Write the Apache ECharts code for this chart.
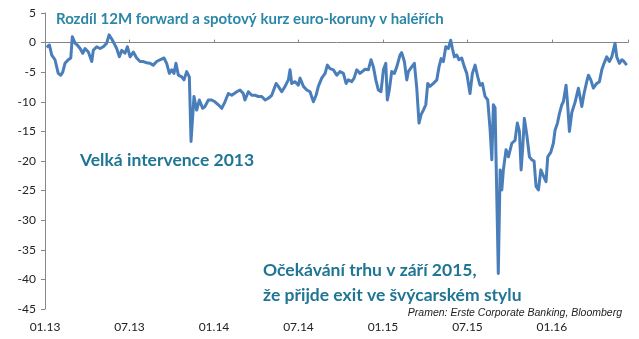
<!DOCTYPE html>
<html>
<head>
<meta charset="utf-8">
<script src="https://cdn.jsdelivr.net/npm/echarts@6/dist/echarts.min.js"></script>
<style>html,body{margin:0;padding:0;background:#fff}#c{width:639px;height:339px}</style>
</head>
<body>
<div id="c"></div>
<script>
// x: months since 1 Jan 2013 (fractional)
const monthIdx = [0.12,0.31,0.48,0.71,0.83,0.94,1.12,1.26,1.42,1.65,1.83,1.94,2.13,2.29,2.49,2.68,2.84,3.08,3.32,3.43,3.67,3.91,4.14,4.38,4.55,4.74,4.90,5.09,5.28,5.45,5.68,5.85,6.04,6.27,6.51,6.75,6.98,7.22,7.46,7.69,7.93,8.17,8.45,8.64,8.83,9.00,9.16,9.30,9.47,9.71,9.87,10.06,10.25,10.37,10.58,10.77,10.96,11.06,11.20,11.36,11.60,11.84,12.07,12.31,12.55,12.78,13.02,13.26,13.62,13.85,14.08,14.20,14.44,14.68,14.91,15.15,15.39,15.63,15.86,16.10,16.41,16.57,16.81,17.05,17.28,17.40,17.52,17.76,17.99,18.11,18.35,18.59,18.82,19.06,19.25,19.41,19.65,19.89,20.05,20.24,20.48,20.72,20.95,21.19,21.38,21.54,21.78,21.95,22.14,22.37,22.49,22.73,22.96,23.15,23.32,23.49,23.67,23.86,24.03,24.20,24.31,24.45,24.62,24.81,24.98,25.21,25.33,25.52,25.69,25.80,26.04,26.23,26.40,26.56,26.70,26.87,27.04,27.18,27.34,27.58,27.82,27.98,28.13,28.29,28.46,28.64,28.81,28.93,29.07,29.24,29.40,29.59,29.78,29.95,30.18,30.35,30.54,30.73,30.89,31.06,31.25,31.44,31.61,31.73,31.84,31.96,32.19,32.32,32.44,32.55,32.74,32.91,33.15,33.38,33.54,33.69,33.81,33.93,34.04,34.21,34.40,34.57,34.73,34.87,35.04,35.21,35.39,35.58,35.70,35.92,36.10,36.22,36.39,36.53,36.70,36.81,37.00,37.10,37.24,37.41,37.64,37.88,38.12,38.28,38.47,38.59,38.76,38.94,39.18,39.37,39.54,39.70,39.89,40.08,40.25,40.36,40.48,40.60,40.79,40.96,41.12,41.31];
// spread 12M forward vs spot EUR/CZK, in halers
const spread = [-0.8,-0.4,-2.1,-2.9,-4.1,-5.2,-5.5,-5.0,-3.5,-2.9,-2.6,1.0,-0.1,-0.4,-1.0,-1.8,-1.0,-1.6,-3.2,-1.3,-0.7,-1.0,-0.7,-0.1,1.3,0.6,-0.1,-1.0,-2.4,-1.3,-1.8,-0.7,-2.4,-1.6,-2.6,-3.2,-3.2,-3.4,-3.5,-3.8,-3.2,-2.9,-2.6,-3.5,-5.2,-4.6,-5.2,-3.5,-5.5,-5.8,-6.3,-4.9,-5.8,-16.7,-9.1,-11.4,-9.7,-10.0,-11.1,-10.8,-9.7,-9.7,-10.0,-10.5,-11.1,-10.0,-8.6,-8.9,-8.3,-8.0,-8.6,-9.7,-8.3,-8.9,-8.9,-9.1,-9.1,-9.7,-9.4,-8.9,-6.9,-7.4,-8.3,-7.4,-6.3,-4.6,-6.9,-6.6,-7.2,-6.0,-7.4,-8.0,-8.3,-10.0,-8.9,-7.4,-6.0,-5.2,-3.8,-4.4,-4.6,-5.5,-4.9,-5.2,-6.9,-6.3,-6.6,-6.0,-4.6,-5.2,-4.9,-4.5,-4.6,-2.9,-4.1,-6.3,-8.0,-8.3,-4.6,-3.5,-9.7,-8.0,-4.9,-5.2,-4.1,-2.1,-1.7,-3.2,-6.3,-4.9,-4.1,-3.5,-7.7,-13.6,-12.2,-11.4,-10.5,-6.9,-7.4,-6.9,-6.3,-4.1,-2.7,-3.2,-0.7,-1.0,0.4,-1.0,-2.4,-2.1,-2.9,-2.6,-4.1,-5.2,-8.6,-5.2,-3.8,-5.8,-7.2,-6.9,-9.1,-9.7,-14.8,-19.8,-10.5,-11.0,-39.0,-21.5,-24.9,-21.5,-18.1,-19.3,-17.0,-16.5,-13.6,-15.0,-21.5,-17.5,-12.8,-15.5,-19.3,-19.8,-20.0,-24.3,-24.9,-21.5,-22.5,-23.5,-19.3,-18.5,-17.0,-14.8,-13.6,-12.0,-10.5,-10.0,-7.2,-10.0,-15.0,-11.8,-10.1,-7.7,-10.8,-8.6,-6.6,-5.5,-6.3,-7.7,-6.9,-6.6,-4.6,-3.5,-2.4,-3.2,-2.4,-1.3,-0.1,-2.4,-3.5,-2.9,-3.2,-3.8];
const xTickLabels = ['01.13','07.13','01.14','07.14','01.15','07.15','01.16'];
const yMin = -45, yMax = 5, yStep = 5;

const chart = echarts.init(document.getElementById('c'), null, {renderer:'canvas'});
const axisGray = '#868686';
const teal = '#2b87a8';
const tealDark = '#1f7593';
chart.setOption({
  animation: false,
  grid: {left: 45, right: 11, top: 13, bottom: 30, containLabel: false},
  xAxis: [{
    type: 'value', min: 0, max: 41.4, interval: 6,
    axisLine: {show: true, onZero: true, lineStyle: {color: axisGray, width: 1}},
    axisTick: {show: true, inside: true, length: 3, lineStyle: {color: axisGray}},
    axisLabel: {show: false},
    splitLine: {show: false}
  }, {
    type: 'value', min: 0, max: 41.4, interval: 6, position: 'bottom',
    axisLine: {show: false, onZero: false},
    axisTick: {show: false},
    splitLine: {show: false},
    axisLabel: {
      show: true, margin: 12, showMaxLabel: false,
      fontFamily: 'Lato', fontSize: 12, color: '#222',
      formatter: v => xTickLabels[Math.round(v / 6)] || ''
    }
  }],
  yAxis: {
    type: 'value', min: yMin, max: yMax, interval: yStep,
    axisLine: {show: true, lineStyle: {color: axisGray, width: 1}},
    axisTick: {show: true, length: 4, lineStyle: {color: axisGray}},
    axisLabel: {margin: 9, fontFamily: 'Lato', fontSize: 12, color: '#222'},
    splitLine: {show: false}
  },
  series: [{
    type: 'line',
    xAxisIndex: 0,
    data: monthIdx.map((m, i) => [m, spread[i]]),
    showSymbol: false,
    symbol: 'none',
    lineStyle: {color: '#4a7ebb', width: 3, join: 'round'},
    z: 3
  }],
  graphic: [
    {type: 'text', left: 56, top: 12, z: 10, style: {text: 'Rozdíl 12M forward a spotový kurz euro-koruny v haléřích', font: 'bold 15px Lato', fill: teal}},
    {type: 'text', left: 80, top: 151, z: 10, style: {text: 'Velká intervence 2013', font: 'bold 17.5px Lato', fill: tealDark}},
    {type: 'text', left: 263, top: 261, z: 10, style: {text: 'Očekávání trhu v září 2015,', font: 'bold 17.5px Lato', fill: tealDark}},
    {type: 'text', left: 263, top: 286, z: 10, style: {text: 'že přijde exit ve švýcarském stylu', font: 'bold 17.5px Lato', fill: tealDark}},
    {type: 'text', right: 17, top: 308, z: 10, style: {text: 'Pramen: Erste Corporate Banking, Bloomberg', font: 'italic 10.5px "Liberation Sans"', fill: '#222'}}
  ]
});
</script>
</body>
</html>
